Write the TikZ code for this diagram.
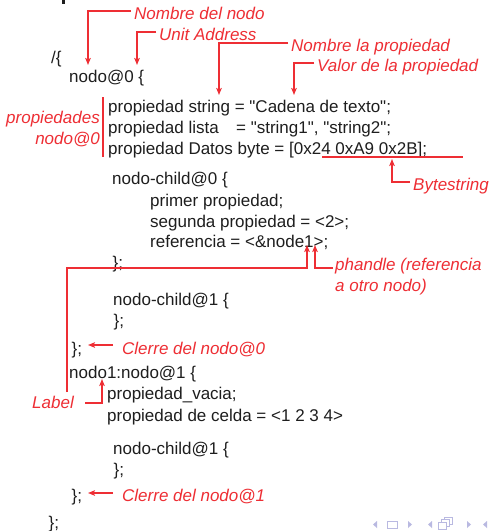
\documentclass[tikz,border=0pt]{standalone}
\usepackage{fontspec}
\setmainfont{Liberation Sans}
\newfontfamily\codefont{Liberation Sans}
\usetikzlibrary{arrows.meta}
\definecolor{red1}{RGB}{238,46,52}
\definecolor{ink}{RGB}{30,30,30}
\definecolor{navc}{RGB}{185,185,225}
\begin{document}
\begin{tikzpicture}[x=1pt,y=-1pt,
  code/.style={anchor=base west,inner sep=0pt,text=ink,font=\codefont\fontsize{17}{20}\selectfont},
  note/.style={anchor=base west,inner xsep=3pt,inner ysep=0pt,text height=16pt,text depth=0pt,text=red1,font=\fontsize{17}{20}\selectfont\itshape},
  lead/.style={draw=red1,line width=1.2pt},
  arr/.style={lead,-{Stealth[length=7pt,width=5.5pt,inset=1.5pt]}},
  navbox/.style={draw=navc,line width=1pt,fill=white}]
\fill[white] (0,0) rectangle (489,531);
\useasboundingbox (0,0) rectangle (489,531);

% cut-off glyph at the top
\fill[ink] (62,0) rectangle (64.5,4);

% code text
\node[code] (slash) at (51,63) {/\{};
\node[code] (n0) at (69,82) {nodo@0 \{};
\node[code] (p1) at (108,112) {propiedad string = "Cadena de texto";};
\node[code] (p2) at (108,133) {propiedad lista\hspace{17.4pt}= "string1", "string2";};
\node[code] (p3) at (108,154) {propiedad Datos byte = [0x24 0xA9 0x2B];};
\node[code] (ch0) at (112,184) {nodo-child@0 \{};
\node[code] (c1) at (150,206) {primer propiedad;};
\node[code] (c2) at (150,227) {segunda propiedad = <2>;};
\node[code] (c3) at (150,247) {referencia = <\&node1>;};
\node[code] (c4) at (112.5,268) {\};};
\node[code] (ch1) at (113,305) {nodo-child@1 \{};
\node[code] (ch1e) at (113.5,326) {\};};
\node[code] (cl0) at (71.5,354) {\};};
\node[code] (n1) at (69,378) {nodo1:nodo@1 \{};
\node[code] (q1) at (107,399) {propiedad\_vacia;};
\node[code] (q2) at (107,421) {propiedad de celda = <1 2 3 4>};
\node[code] (ch2) at (113,454) {nodo-child@1 \{};
\node[code] (ch2e) at (113.5,475) {\};};
\node[code] (cl1) at (71.5,501) {\};};
\node[code] (endb) at (48.5,528) {\};};

% red annotations
\node[note] (nn) at (131,19) {Nombre del nodo};
\node[note] (ua) at (156,40) {Unit Address};
\node[note] (np) at (288,51) {Nombre la propiedad};
\node[note] (vp) at (314,71) {Valor de la propiedad};
\node[note,anchor=base east] (pr1) at (103,123) {propiedades};
\node[note,anchor=base east] (pr2) at (103,144) {nodo@0};
\node[note] (bs) at (410,190) {Bytestring};
\node[note] (ph1) at (332,270) {phandle (referencia};
\node[note] (ph2) at (332,291) {a otro nodo)};
\node[note] (lc0) at (119,354) {Clerre del nodo@0};
\node[note] (lc1) at (119,501) {Clerre del nodo@1};
\node[note] (lb) at (29,408) {Label};

% targets
\coordinate (tnn) at (88,65);
\coordinate (tua) at (137,65);
\coordinate (tnp) at (219,95);
\coordinate (tvp) at (294,95);
\coordinate (ul1) at (322,157);
\coordinate (ul2) at (463,157);
\coordinate (tbs) at (392,159);
\coordinate (phs) at (333,268);
\coordinate (tph) at (315,245);
\coordinate (tlk) at (307,245);
\coordinate (lk0) at (67,392);
\coordinate (lbs) at (85,403);
\coordinate (tlb) at (102,379);
\coordinate (bar1) at (103,97);
\coordinate (bar2) at (103,157);

% connectors
\draw[arr] (nn.west) -| (tnn);
\draw[arr] (ua.west) -| (tua);
\draw[arr] (np.west) -| (tnp);
\draw[arr] (vp.west) -| (tvp);
\draw[lead] (bar1) -- (bar2);
\draw[lead] (ul1) -- (ul2);
\draw[arr] (bs.west) -| (tbs);
\draw[arr] (phs) -| (tph);
\draw[arr] (lk0) |- (tlk |- phs) -- (tlk);
\draw[arr] (lbs) -| (tlb);
\draw[arr] ([xshift=-6pt,yshift=1pt]lc0.west) -- +(-25,0);
\draw[arr] ([xshift=-6pt,yshift=0pt]lc1.west) -- +(-25,0);

% beamer navigation symbols
\fill[navc] (377,521) -- (373,524.5) -- (377,528) -- cycle;
\draw[navbox] (387,521) rectangle (397,528);
\fill[navc] (408,521) -- (412,524.5) -- (408,528) -- cycle;
\fill[navc] (432,521) -- (428,524.5) -- (432,528) -- cycle;
\draw[navbox] (444,517) rectangle (452,524);
\draw[navbox] (441,519.5) rectangle (449,526.5);
\draw[navbox] (438,522) rectangle (446,529);
\fill[navc] (467,521) -- (471,524.5) -- (467,528) -- cycle;
\fill[navc] (487,521) -- (483,524.5) -- (487,528) -- cycle;
\end{tikzpicture}
\end{document}
